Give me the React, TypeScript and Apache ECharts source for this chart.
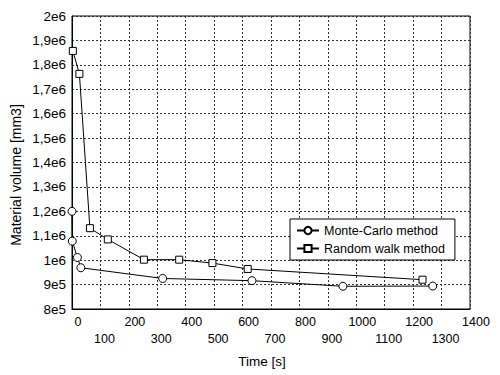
import React, { useEffect, useRef } from "react";
import * as echarts from "echarts";

// Data
const monteCarloTime = [0, 1, 19, 31, 319, 633, 953, 1269];
const monteCarloVolume = [1200000, 1078000, 1011000, 969000, 925000, 916000, 893000, 894000];

const randomWalkTime = [3, 26, 63, 126, 253, 377, 494, 618, 1233];
const randomWalkVolume = [1857000, 1763000, 1131000, 1085000, 1002000, 1002000, 988000, 964000, 920000];

const yTickLabels = ["8e5", "9e5", "1e6", "1,1e6", "1,2e6", "1,3e6", "1,4e6", "1,5e6", "1,6e6", "1,7e6", "1,8e6", "1,9e6", "2e6"];
const xTickValues = [0, 100, 200, 300, 400, 500, 600, 700, 800, 900, 1000, 1100, 1200, 1300, 1400];
const xTickLabels = ["0", "100", "200", "300", "400", "500", "600", "700", "800", "900", "1000", "1100", "1200", "1300", "1400"];

const seriesNames = ["Monte-Carlo method", "Random walk method"];
const xTitle = "Time [s]";
const yTitle = "Material volume [mm3]";

const FONT = "'Liberation Sans', Arial, sans-serif";

export default function App() {
  const ref = useRef<HTMLDivElement>(null);
  useEffect(() => {
    if (!ref.current) return;
    const chart = echarts.init(ref.current, undefined, { renderer: "svg" });
    const mc = monteCarloTime.map((t, i) => [t, monteCarloVolume[i]]);
    const rw = randomWalkTime.map((t, i) => [t, randomWalkVolume[i]]);
    const titleGraphics = [
      {
        type: "text",
        x: 16,
        y: 175,
        rotation: Math.PI / 2,
        style: {
          text: yTitle,
          fill: "#000",
          font: "14px " + FONT,
          textAlign: "center",
          textVerticalAlign: "middle",
        },
      },
      {
        type: "text",
        x: 262,
        y: 361,
        style: {
          text: xTitle,
          fill: "#000",
          font: "13.5px " + FONT,
          textAlign: "center",
          textVerticalAlign: "middle",
        },
      },
    ];
    chart.setOption({
      animation: false,
      backgroundColor: "#fff",
      textStyle: { fontFamily: FONT },
      grid: {
        left: 72,
        top: 16,
        right: 30,
        bottom: 66,
        show: true,
        borderColor: "#000",
        borderWidth: 1,
        backgroundColor: "transparent",
      },
      xAxis: {
        type: "value",
        min: 0,
        max: 1400,
        interval: 100,
        position: "bottom",
        axisTick: { show: false },
        axisLine: { show: true, onZero: false, lineStyle: { color: "#000", width: 1 } },
        splitLine: { show: true, lineStyle: { color: "#333", type: [2, 2], width: 1 } },
        axisLabel: {
          color: "#000",
          fontSize: 12.5,
          fontFamily: FONT,
          margin: 6,
          hideOverlap: false,
          showMinLabel: true,
          showMaxLabel: true,
          formatter: (v: number) => {
            const idx = Math.round(v / 100);
            return idx % 2 === 0 ? "{s|" + (xTickLabels[idx] ?? String(v)) + "}" : "";
          },
          rich: { s: { fontSize: 12.5, fontFamily: FONT, color: "#000", padding: [0, 0, 0, 12] } },
        },
      },
      yAxis: {
        type: "value",
        min: 800000,
        max: 2000000,
        interval: 100000,
        axisLine: { show: true, lineStyle: { color: "#000", width: 1 } },
        axisTick: { show: false },
        splitLine: { show: true, lineStyle: { color: "#333", type: [2, 2], width: 1 } },
        axisLabel: {
          color: "#000",
          fontSize: 13.5,
          fontFamily: FONT,
          margin: 6,
          hideOverlap: false,
          showMinLabel: true,
          showMaxLabel: true,
          formatter: (v: number) => {
            const idx = Math.round((v - 800000) / 100000);
            return yTickLabels[idx] ?? String(v);
          },
        },
      },
      legend: {
        orient: "vertical",
        left: 290,
        top: 219,
        data: seriesNames,
        backgroundColor: "#fff",
        borderColor: "#000",
        borderWidth: 1,
        borderRadius: 0,
        padding: [5, 10, 5, 6],
        itemWidth: 22,
        itemHeight: 9,
        itemGap: 5,
        textStyle: { color: "#000", fontSize: 12.5, fontFamily: FONT },
      },
      graphic: titleGraphics,
      series: [
        {
          name: seriesNames[0],
          type: "line",
          data: mc,
          symbol: "circle",
          symbolSize: 8,
          showAllSymbol: true,
          clip: false,
          lineStyle: { color: "#000", width: 1 },
          itemStyle: { color: "#fff", borderColor: "#000", borderWidth: 1 },
          z: 3,
        },
        {
          name: seriesNames[1],
          type: "line",
          data: rw,
          symbol: "rect",
          symbolSize: 7,
          showAllSymbol: true,
          clip: false,
          lineStyle: { color: "#000", width: 1 },
          itemStyle: { color: "#fff", borderColor: "#000", borderWidth: 1 },
          z: 3,
        },
      ],
    });
    // Second row of staggered x labels (odd hundreds), placed through the x axis scale
    const axisY = chart.convertToPixel({ yAxisIndex: 0 }, 800000) as number;
    const oddLabels = xTickValues
      .map((v, i) => ({ v, i }))
      .filter(({ i }) => i % 2 === 1)
      .map(({ v, i }) => ({
        type: "text",
        x: (chart.convertToPixel({ xAxisIndex: 0 }, v) as number) + 4,
        y: axisY + 23,
        style: {
          text: xTickLabels[i],
          fill: "#000",
          font: "12.5px " + FONT,
          textAlign: "center",
          textVerticalAlign: "top",
        },
      }));
    chart.setOption({ graphic: [...titleGraphics, ...oddLabels] });
    return () => chart.dispose();
  }, []);
  return <div ref={ref} style={{ position: "absolute", left: 0, top: 0, width: 500, height: 375 }} />;
}
